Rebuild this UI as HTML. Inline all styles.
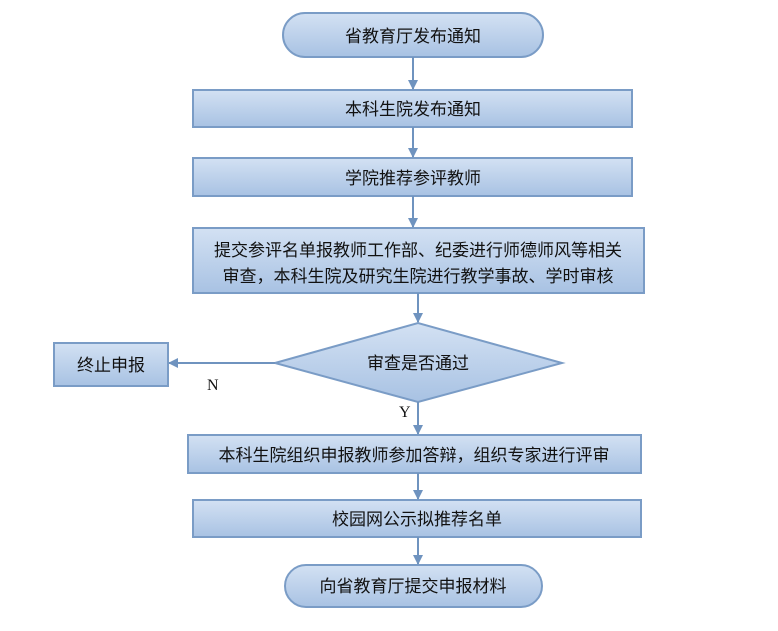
<!DOCTYPE html>
<html><head><meta charset="utf-8"><style>
body{margin:0;background:#fff}
svg text{font-family:"Liberation Sans","Noto Sans CJK SC",sans-serif;font-size:17px;fill:#111}
</style></head><body>
<svg width="778" height="626" viewBox="0 0 778 626" xmlns="http://www.w3.org/2000/svg">
<defs>
<linearGradient id="g" x1="0" y1="0" x2="0" y2="1">
<stop offset="0" stop-color="#d3e1f3"/><stop offset="1" stop-color="#a8c2e3"/></linearGradient>
<marker id="a" markerWidth="10" markerHeight="10" refX="9" refY="5" orient="auto" markerUnits="userSpaceOnUse">
<path d="M0,0 L10,5 L0,10 z" fill="#6f93bf"/></marker>
</defs>
<g stroke="#7a9cc6" stroke-width="2" fill="url(#g)">
<rect x="283" y="13" width="260" height="44" rx="22"/>
<rect x="193" y="90" width="439" height="37"/>
<rect x="193" y="158" width="439" height="38"/>
<rect x="193" y="228" width="451" height="65"/>
<polygon points="275,363 418,323 562,363 418,402"/>
<rect x="54" y="343" width="114" height="43"/>
<rect x="188" y="435" width="453" height="38"/>
<rect x="193" y="500" width="448" height="37"/>
<rect x="285" y="565" width="257" height="42" rx="21"/>
</g>
<g stroke="#6f93bf" stroke-width="2" marker-end="url(#a)">
<line x1="413" y1="57" x2="413" y2="89"/>
<line x1="413" y1="127" x2="413" y2="157"/>
<line x1="413" y1="196" x2="413" y2="227"/>
<line x1="418" y1="293" x2="418" y2="322"/>
<line x1="275" y1="363" x2="169" y2="363"/>
<line x1="418" y1="402" x2="418" y2="434"/>
<line x1="418" y1="473" x2="418" y2="499"/>
<line x1="418" y1="537" x2="418" y2="564"/>
</g>
<g text-anchor="middle">
<text x="413" y="42">省教育厅发布通知</text>
<text x="413" y="115">本科生院发布通知</text>
<text x="413" y="184">学院推荐参评教师</text>
<text x="418" y="256">提交参评名单报教师工作部、纪委进行师德师风等相关</text>
<text x="418" y="282">审查，本科生院及研究生院进行教学事故、学时审核</text>
<text x="418" y="369">审查是否通过</text>
<text x="111" y="371">终止申报</text>
<text x="414" y="461">本科生院组织申报教师参加答辩，组织专家进行评审</text>
<text x="417" y="525">校园网公示拟推荐名单</text>
<text x="413" y="592">向省教育厅提交申报材料</text>
</g>
<text x="207" y="390" style="font-family:'Liberation Serif',serif;font-size:16px">N</text>
<text x="399" y="417" style="font-family:'Liberation Serif',serif;font-size:16px">Y</text>
</svg>
</body></html>
